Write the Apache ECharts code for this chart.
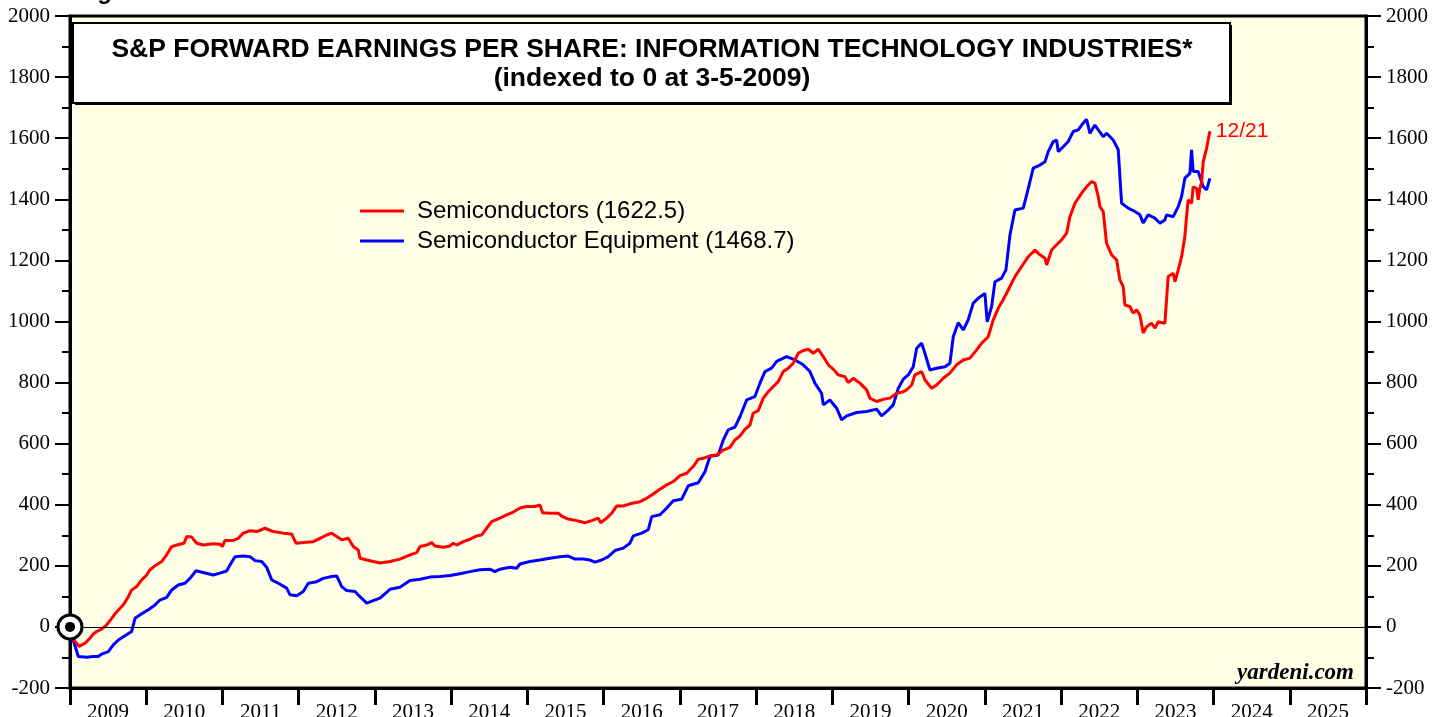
<!DOCTYPE html>
<html>
<head>
<meta charset="utf-8">
<script src="https://cdn.jsdelivr.net/npm/echarts@6/dist/echarts.min.js"></script>
<style>
  html, body { margin: 0; padding: 0; background: #ffffff; }
  #chart { width: 1446px; height: 717px; }
</style>
</head>
<body>
<div id="chart"></div>
<script>
// year labels under the axis
const years = ['2009', '2010', '2011', '2012', '2013', '2014', '2015', '2016', '2017',
  '2018', '2019', '2020', '2021', '2022', '2023', '2024', '2025']

// Semiconductors (decimal year, index value)
const semiDates = [2009.035, 2009.118, 2009.197, 2009.262, 2009.306, 2009.350, 2009.416, 2009.481, 2009.547, 2009.590,
  2009.656, 2009.699, 2009.765, 2009.809, 2009.875, 2009.940, 2010.006, 2010.049, 2010.115, 2010.203,
  2010.268, 2010.334, 2010.400, 2010.495, 2010.531, 2010.596, 2010.662, 2010.748, 2010.880, 2010.967,
  2010.998, 2011.033, 2011.142, 2011.208, 2011.273, 2011.361, 2011.449, 2011.558, 2011.667, 2011.798,
  2011.908, 2011.964, 2012.060, 2012.191, 2012.279, 2012.367, 2012.433, 2012.498, 2012.564, 2012.650,
  2012.716, 2012.781, 2012.804, 2012.892, 2012.978, 2013.066, 2013.197, 2013.328, 2013.460, 2013.547,
  2013.591, 2013.679, 2013.744, 2013.788, 2013.896, 2013.984, 2014.027, 2014.072, 2014.159, 2014.246,
  2014.334, 2014.400, 2014.466, 2014.531, 2014.640, 2014.728, 2014.815, 2014.902, 2014.990, 2015.099,
  2015.165, 2015.200, 2015.296, 2015.405, 2015.449, 2015.536, 2015.646, 2015.755, 2015.843, 2015.929,
  2015.961, 2016.040, 2016.105, 2016.171, 2016.257, 2016.345, 2016.476, 2016.564, 2016.651, 2016.739,
  2016.827, 2016.913, 2017.001, 2017.089, 2017.175, 2017.241, 2017.307, 2017.394, 2017.482, 2017.569,
  2017.657, 2017.722, 2017.788, 2017.853, 2017.919, 2017.962, 2018.028, 2018.094, 2018.159, 2018.225,
  2018.290, 2018.356, 2018.422, 2018.487, 2018.553, 2018.618, 2018.684, 2018.750, 2018.815, 2018.881,
  2018.946, 2019.012, 2019.077, 2019.165, 2019.208, 2019.274, 2019.362, 2019.450, 2019.493, 2019.581,
  2019.668, 2019.756, 2019.843, 2019.930, 2019.974, 2020.040, 2020.083, 2020.171, 2020.214, 2020.302,
  2020.368, 2020.454, 2020.542, 2020.630, 2020.717, 2020.805, 2020.893, 2020.958, 2021.045, 2021.110,
  2021.176, 2021.241, 2021.307, 2021.395, 2021.483, 2021.570, 2021.657, 2021.723, 2021.789, 2021.811,
  2021.876, 2021.942, 2022.007, 2022.073, 2022.116, 2022.182, 2022.270, 2022.335, 2022.401, 2022.444,
  2022.488, 2022.510, 2022.553, 2022.597, 2022.663, 2022.728, 2022.772, 2022.815, 2022.837, 2022.903,
  2022.946, 2022.991, 2023.034, 2023.078, 2023.122, 2023.188, 2023.231, 2023.274, 2023.362, 2023.405,
  2023.471, 2023.494, 2023.537, 2023.581, 2023.624, 2023.646, 2023.667, 2023.712, 2023.733, 2023.778,
  2023.799, 2023.821, 2023.843, 2023.865, 2023.909, 2023.952]
const semiValues = [-37, -64, -53, -37, -23, -15, -7, 7, 28, 43,
  61, 72, 99, 121, 132, 154, 170, 187, 200, 214,
  236, 263, 268, 274, 296, 294, 274, 268, 272, 271,
  263, 283, 283, 290, 307, 315, 312, 323, 312, 307,
  304, 274, 276, 279, 290, 301, 307, 296, 285, 290,
  263, 252, 225, 219, 214, 209, 214, 222, 236, 243,
  263, 268, 276, 265, 261, 265, 274, 268, 279, 287,
  298, 301, 323, 345, 356, 367, 376, 389, 394, 394,
  399, 374, 372, 372, 363, 353, 348, 341, 348, 356,
  341, 356, 372, 396, 396, 403, 410, 421, 435, 451,
  465, 476, 495, 503, 525, 549, 552, 560, 563, 579,
  588, 612, 625, 647, 661, 700, 708, 749, 770, 787,
  803, 836, 847, 863, 896, 905, 909, 896, 909, 885,
  858, 844, 825, 819, 800, 814, 798, 776, 749, 738,
  745, 749, 765, 770, 776, 792, 825, 836, 809, 781,
  792, 814, 831, 858, 874, 880, 907, 929, 950, 1005,
  1043, 1071, 1103, 1147, 1180, 1212, 1234, 1218, 1207, 1185,
  1234, 1251, 1267, 1289, 1343, 1387, 1420, 1441, 1458, 1453,
  1409, 1376, 1360, 1256, 1218, 1202, 1136, 1114, 1054, 1049,
  1027, 1038, 1021, 962, 983, 994, 978, 999, 994, 1147,
  1158, 1130, 1169, 1212, 1278, 1343, 1398, 1387, 1441, 1436,
  1398, 1436, 1453, 1523, 1567, 1622.5]

// Semiconductor Equipment (decimal year, index value)
const equipDates = [2009.035, 2009.109, 2009.219, 2009.306, 2009.328, 2009.371, 2009.416, 2009.502, 2009.568, 2009.634,
  2009.721, 2009.809, 2009.853, 2009.940, 2010.027, 2010.115, 2010.180, 2010.268, 2010.334, 2010.420,
  2010.508, 2010.574, 2010.653, 2010.748, 2010.880, 2010.967, 2011.055, 2011.099, 2011.164, 2011.273,
  2011.361, 2011.427, 2011.514, 2011.580, 2011.646, 2011.732, 2011.842, 2011.886, 2011.974, 2012.060,
  2012.126, 2012.236, 2012.322, 2012.433, 2012.498, 2012.564, 2012.629, 2012.738, 2012.804, 2012.892,
  2012.978, 2013.066, 2013.197, 2013.328, 2013.460, 2013.591, 2013.722, 2013.853, 2013.984, 2014.115,
  2014.246, 2014.377, 2014.509, 2014.574, 2014.640, 2014.771, 2014.859, 2014.902, 2015.034, 2015.165,
  2015.296, 2015.427, 2015.536, 2015.624, 2015.733, 2015.821, 2015.886, 2015.974, 2016.061, 2016.148,
  2016.257, 2016.345, 2016.389, 2016.499, 2016.585, 2016.630, 2016.739, 2016.827, 2016.913, 2017.023,
  2017.110, 2017.241, 2017.329, 2017.394, 2017.503, 2017.569, 2017.634, 2017.722, 2017.788, 2017.876,
  2017.984, 2018.050, 2018.116, 2018.203, 2018.269, 2018.400, 2018.509, 2018.618, 2018.706, 2018.771,
  2018.859, 2018.881, 2018.968, 2019.056, 2019.122, 2019.188, 2019.319, 2019.450, 2019.581, 2019.646,
  2019.733, 2019.799, 2019.864, 2019.930, 2019.996, 2020.061, 2020.106, 2020.171, 2020.214, 2020.280,
  2020.368, 2020.477, 2020.542, 2020.586, 2020.651, 2020.717, 2020.782, 2020.848, 2020.913, 2021.001,
  2021.031, 2021.089, 2021.133, 2021.221, 2021.277, 2021.330, 2021.395, 2021.504, 2021.570, 2021.635,
  2021.723, 2021.789, 2021.832, 2021.898, 2021.942, 2021.963, 2022.029, 2022.094, 2022.160, 2022.225,
  2022.270, 2022.335, 2022.379, 2022.444, 2022.488, 2022.553, 2022.597, 2022.684, 2022.750, 2022.794,
  2022.881, 2022.969, 2023.034, 2023.078, 2023.143, 2023.231, 2023.297, 2023.362, 2023.384, 2023.471,
  2023.537, 2023.581, 2023.624, 2023.690, 2023.712, 2023.733, 2023.799, 2023.865, 2023.909, 2023.952]
const equipValues = [-37, -97, -99, -97, -92, -97, -89, -81, -59, -43,
  -29, -15, 28, 43, 56, 72, 88, 97, 121, 137,
  143, 159, 184, 178, 170, 176, 183, 203, 230, 232,
  230, 217, 214, 195, 154, 143, 127, 105, 102, 116,
  143, 148, 159, 165, 167, 132, 119, 116, 99, 78,
  86, 94, 123, 130, 152, 156, 163, 165, 168, 174,
  181, 187, 189, 181, 189, 195, 192, 206, 214, 219,
  225, 230, 232, 222, 222, 219, 212, 219, 230, 250,
  258, 274, 298, 307, 318, 361, 367, 389, 413, 418,
  462, 472, 508, 558, 563, 612, 645, 654, 688, 743,
  754, 798, 836, 847, 869, 885, 874, 858, 836, 798,
  765, 727, 743, 716, 678, 691, 702, 705, 713, 691,
  710, 727, 781, 811, 825, 852, 912, 929, 896, 841,
  847, 852, 863, 950, 996, 972, 1005, 1060, 1076, 1092,
  999, 1049, 1130, 1142, 1169, 1283, 1365, 1371, 1436, 1502,
  1512, 1523, 1556, 1589, 1594, 1556, 1572, 1589, 1622, 1627,
  1643, 1662, 1616, 1643, 1627, 1605, 1616, 1594, 1562, 1387,
  1371, 1360, 1349, 1322, 1349, 1338, 1322, 1332, 1349, 1343,
  1376, 1409, 1469, 1485, 1562, 1491, 1491, 1441, 1431, 1468.7]

const seriesNames = ['Semiconductors (1622.5)', 'Semiconductor Equipment (1468.7)']
const lastDate = '12/21'

const pairs = (xs, ys) => xs.map((x, i) => [x, ys[i]])

const serif = '"Liberation Serif", "DejaVu Serif", serif'
const sans = '"Liberation Sans", Arial, sans-serif'

const chart = echarts.init(document.getElementById('chart'), null, { renderer: 'canvas' })

const yAxisBase = {
  type: 'value',
  min: -200,
  max: 2000,
  interval: 200,
  axisLine: { show: true, onZero: false, lineStyle: { color: '#000', width: 3 } },
  axisTick: { show: true, length: 15, lineStyle: { color: '#000', width: 2 } },
  minorTick: { show: true, splitNumber: 2, length: 8, lineStyle: { color: '#000', width: 2 } },
  splitLine: { show: false },
  axisLabel: {
    color: '#000',
    fontFamily: serif,
    fontSize: 21,
    margin: 20,
    formatter: function (v) { return String(v) }
  }
}

chart.setOption({
  animation: false,
  backgroundColor: '#ffffff',
  grid: {
    left: 70,
    right: 80,
    top: 16,
    bottom: 29,
    outerBoundsMode: 'none',
    show: true,
    backgroundColor: '#fffee6',
    borderColor: '#000',
    borderWidth: 3
  },
  legend: {
    orient: 'vertical',
    left: 355,
    top: 193,
    icon: 'rect',
    itemWidth: 44,
    itemHeight: 3,
    itemGap: 4,
    data: seriesNames,
    textStyle: { color: '#000', fontFamily: sans, fontSize: 24, lineHeight: 26, padding: [0, 0, 0, 8] }
  },
  xAxis: [
    {
      // label axis: years centred between the ticks
      type: 'category',
      data: years,
      boundaryGap: true,
      position: 'bottom',
      axisLine: { show: true, onZero: false, lineStyle: { color: '#000', width: 3 } },
      axisTick: { show: true, interval: 0, length: 17, alignWithLabel: false, lineStyle: { color: '#000', width: 3 } },
      axisLabel: { interval: 0, color: '#000', fontFamily: serif, fontSize: 21, margin: 14 },
      splitLine: { show: false }
    },
    {
      // data axis
      type: 'value',
      min: 2009,
      max: 2026,
      show: false
    }
  ],
  yAxis: [
    Object.assign({}, yAxisBase, { position: 'left' }),
    Object.assign({}, yAxisBase, { position: 'right' })
  ],
  graphic: [
    {
      type: 'text',
      left: 76,
      top: -20,
      style: { text: 'Figure 6.', fill: '#000', font: 'bold 24px ' + sans }
    },
    {
      type: 'rect',
      shape: { x: 75, y: 25, width: 1157, height: 80 },
      style: { fill: '#000' },
      z: 10
    },
    {
      type: 'rect',
      shape: { x: 73, y: 23, width: 1157, height: 80 },
      style: { fill: '#fff', stroke: '#000', lineWidth: 2 },
      z: 11
    },
    {
      type: 'text',
      x: 652,
      y: 50,
      style: {
        text: 'S&P FORWARD EARNINGS PER SHARE: INFORMATION TECHNOLOGY INDUSTRIES*',
        fill: '#000',
        font: 'bold 26.5px ' + sans,
        align: 'center',
        verticalAlign: 'middle'
      },
      z: 12
    },
    {
      type: 'text',
      x: 652,
      y: 79,
      style: {
        text: '(indexed to 0 at 3-5-2009)',
        fill: '#000',
        font: 'bold 26.5px ' + sans,
        align: 'center',
        verticalAlign: 'middle'
      },
      z: 12
    },
    {
      type: 'text',
      x: 1354,
      y: 673,
      style: {
        text: 'yardeni.com',
        fill: '#000',
        font: 'italic bold 23px ' + serif,
        align: 'right',
        verticalAlign: 'middle'
      },
      z: 12
    }
  ],
  series: [
    {
      name: seriesNames[0],
      type: 'line',
      xAxisIndex: 1,
      yAxisIndex: 0,
      showSymbol: false,
      z: 4,
      lineStyle: { color: '#ff0000', width: 3 },
      itemStyle: { color: '#ff0000' },
      data: pairs(semiDates, semiValues),
      endLabel: {
        show: true,
        formatter: lastDate,
        color: '#ff0000',
        fontFamily: sans,
        fontSize: 21,
        distance: 6
      },
      markLine: {
        silent: true,
        symbol: 'none',
        label: { show: false },
        lineStyle: { color: '#000', width: 1, type: 'solid' },
        data: [{ yAxis: 0 }]
      }
    },
    {
      name: seriesNames[1],
      type: 'line',
      xAxisIndex: 1,
      yAxisIndex: 0,
      showSymbol: false,
      z: 3,
      lineStyle: { color: '#0000ff', width: 3 },
      itemStyle: { color: '#0000ff' },
      data: pairs(equipDates, equipValues)
    },
    {
      // base point marker at 0
      type: 'scatter',
      xAxisIndex: 1,
      yAxisIndex: 0,
      z: 6,
      symbol: 'circle',
      symbolSize: 24,
      itemStyle: { color: '#fff', opacity: 1, borderColor: '#000', borderWidth: 3 },
      data: [[2009, 0]]
    },
    {
      type: 'scatter',
      xAxisIndex: 1,
      yAxisIndex: 0,
      z: 7,
      symbol: 'circle',
      symbolSize: 10,
      itemStyle: { color: '#000', opacity: 1 },
      data: [[2009, 0]]
    }
  ]
})
</script>
</body>
</html>
